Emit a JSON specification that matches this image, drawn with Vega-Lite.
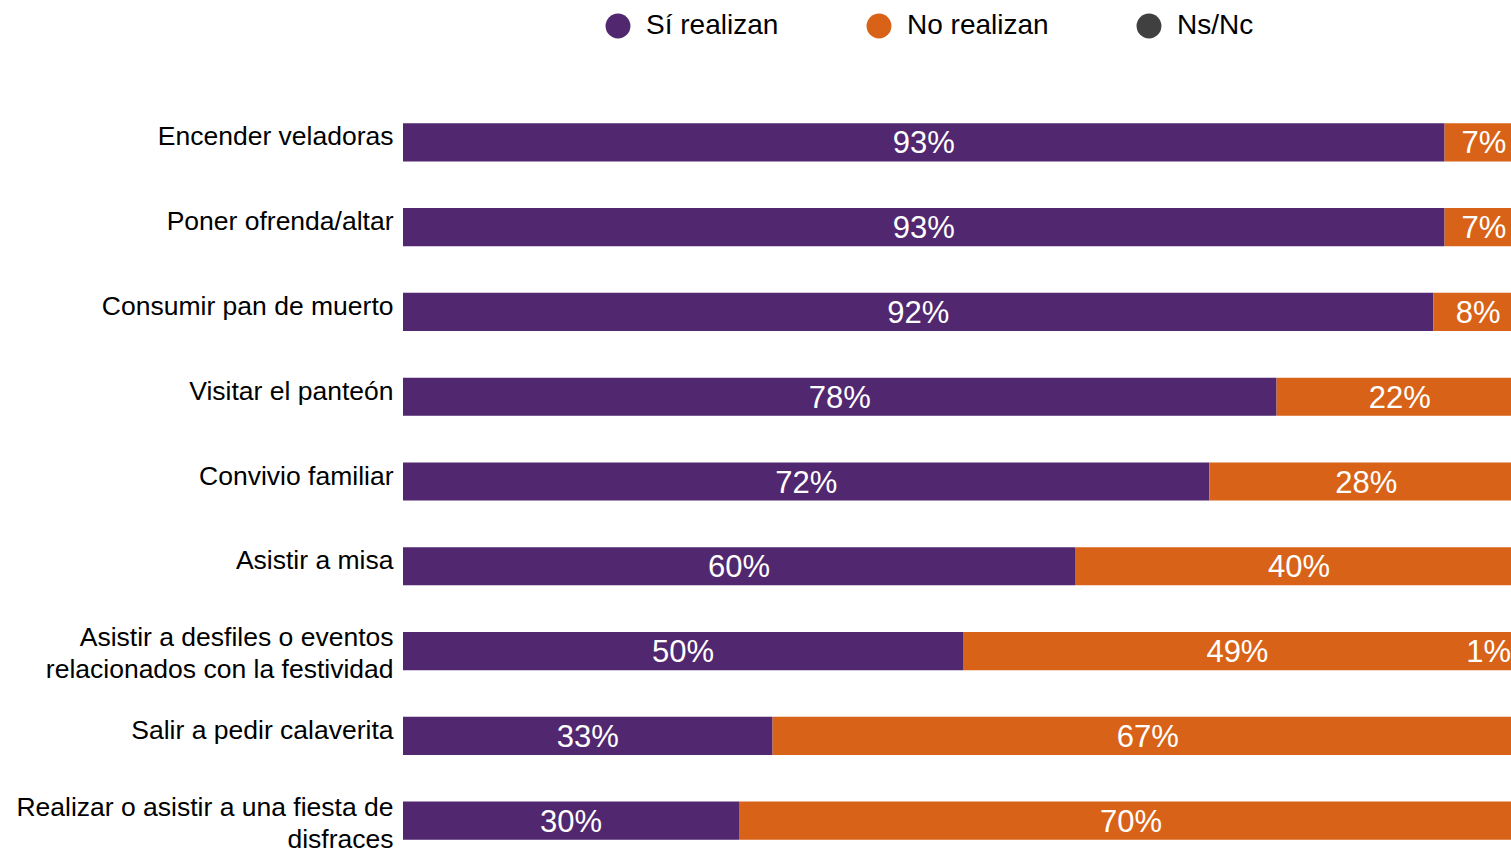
{
  "$schema": "https://vega.github.io/schema/vega-lite/v6.json",
  "autosize": "none",
  "padding": {"left": 403, "top": 100, "right": 0, "bottom": 0},
  "width": 1120,
  "height": 763,
  "background": "white",
  "config": {"view": {"stroke": null}, "font": "Liberation Sans"},
  "data": {
    "values": [
      {"cat": "Encender veladoras", "resp": "Sí realizan", "ord": 1, "value": 93},
      {"cat": "Encender veladoras", "resp": "No realizan", "ord": 2, "value": 7},
      {"cat": "Encender veladoras", "resp": "Ns/Nc", "ord": 3, "value": 0},
      {"cat": "Poner ofrenda/altar", "resp": "Sí realizan", "ord": 1, "value": 93},
      {"cat": "Poner ofrenda/altar", "resp": "No realizan", "ord": 2, "value": 7},
      {"cat": "Poner ofrenda/altar", "resp": "Ns/Nc", "ord": 3, "value": 0},
      {"cat": "Consumir pan de muerto", "resp": "Sí realizan", "ord": 1, "value": 92},
      {"cat": "Consumir pan de muerto", "resp": "No realizan", "ord": 2, "value": 8},
      {"cat": "Consumir pan de muerto", "resp": "Ns/Nc", "ord": 3, "value": 0},
      {"cat": "Visitar el panteón", "resp": "Sí realizan", "ord": 1, "value": 78},
      {"cat": "Visitar el panteón", "resp": "No realizan", "ord": 2, "value": 22},
      {"cat": "Visitar el panteón", "resp": "Ns/Nc", "ord": 3, "value": 0},
      {"cat": "Convivio familiar", "resp": "Sí realizan", "ord": 1, "value": 72},
      {"cat": "Convivio familiar", "resp": "No realizan", "ord": 2, "value": 28},
      {"cat": "Convivio familiar", "resp": "Ns/Nc", "ord": 3, "value": 0},
      {"cat": "Asistir a misa", "resp": "Sí realizan", "ord": 1, "value": 60},
      {"cat": "Asistir a misa", "resp": "No realizan", "ord": 2, "value": 40},
      {"cat": "Asistir a misa", "resp": "Ns/Nc", "ord": 3, "value": 0},
      {"cat": "Asistir a desfiles o eventos|relacionados con la festividad", "resp": "Sí realizan", "ord": 1, "value": 50},
      {"cat": "Asistir a desfiles o eventos|relacionados con la festividad", "resp": "No realizan", "ord": 2, "value": 49},
      {"cat": "Asistir a desfiles o eventos|relacionados con la festividad", "resp": "Ns/Nc", "ord": 3, "value": 1},
      {"cat": "Salir a pedir calaverita", "resp": "Sí realizan", "ord": 1, "value": 33},
      {"cat": "Salir a pedir calaverita", "resp": "No realizan", "ord": 2, "value": 67},
      {"cat": "Salir a pedir calaverita", "resp": "Ns/Nc", "ord": 3, "value": 0},
      {"cat": "Realizar o asistir a una fiesta de|disfraces", "resp": "Sí realizan", "ord": 1, "value": 30},
      {"cat": "Realizar o asistir a una fiesta de|disfraces", "resp": "No realizan", "ord": 2, "value": 70},
      {"cat": "Realizar o asistir a una fiesta de|disfraces", "resp": "Ns/Nc", "ord": 3, "value": 0}
    ]
  },
  "transform": [
    {"stack": "value", "groupby": ["cat"], "sort": [{"field": "ord", "order": "ascending"}], "as": ["x0", "x1"]},
    {"calculate": "(datum.x0 + datum.x1) / 2", "as": "mid"},
    {"calculate": "datum.value + '%'", "as": "lbl"}
  ],
  "encoding": {
    "y": {
      "field": "cat",
      "type": "nominal",
      "sort": null,
      "title": null,
      "scale": {"paddingInner": 0.55, "paddingOuter": 0.275},
      "axis": {
        "domain": false,
        "ticks": false,
        "grid": false,
        "labelExpr": "split(datum.label, '|')",
        "labelFontSize": 26.5,
        "labelFont": "Liberation Sans",
        "labelColor": "#000000",
        "labelPadding": 10,
        "labelLimit": 0,
        "labelLineHeight": 32,
        "labelOffset": {"condition": {"test": "indexof(datum.value, '|') >= 0", "value": -13}, "value": -5}
      }
    }
  },
  "layer": [
    {
      "mark": {"type": "bar"},
      "encoding": {
        "x": {"field": "x0", "type": "quantitative", "scale": {"domain": [0, 100]}, "axis": null},
        "x2": {"field": "x1"},
        "color": {
          "field": "resp",
          "type": "nominal",
          "scale": {"domain": ["Sí realizan", "No realizan", "Ns/Nc"], "range": ["#51276F", "#D86318", "#404040"]},
          "legend": {
            "title": null,
            "orient": "none",
            "direction": "horizontal",
            "legendX": 201,
            "legendY": -88,
            "symbolType": "circle",
            "symbolSize": 620,
            "symbolStrokeWidth": 0,
            "labelFontSize": 28,
            "labelFont": "Liberation Sans",
            "labelColor": "#000000",
            "labelOffset": 14,
            "columnPadding": 86,
            "labelLimit": 0
          }
        }
      }
    },
    {
      "transform": [{"filter": "datum.value > 0 && datum.resp != 'Ns/Nc'"}],
      "mark": {"type": "text", "color": "white", "fontSize": 31, "font": "Liberation Sans", "baseline": "middle", "dy": 2},
      "encoding": {
        "x": {"field": "mid", "type": "quantitative"},
        "text": {"field": "lbl"}
      }
    },
    {
      "transform": [{"filter": "datum.value > 0 && datum.resp == 'Ns/Nc'"}],
      "mark": {"type": "text", "color": "white", "fontSize": 31, "font": "Liberation Sans", "baseline": "middle", "align": "right", "dx": -12, "dy": 2},
      "encoding": {
        "x": {"field": "x1", "type": "quantitative"},
        "text": {"field": "lbl"}
      }
    }
  ]
}
